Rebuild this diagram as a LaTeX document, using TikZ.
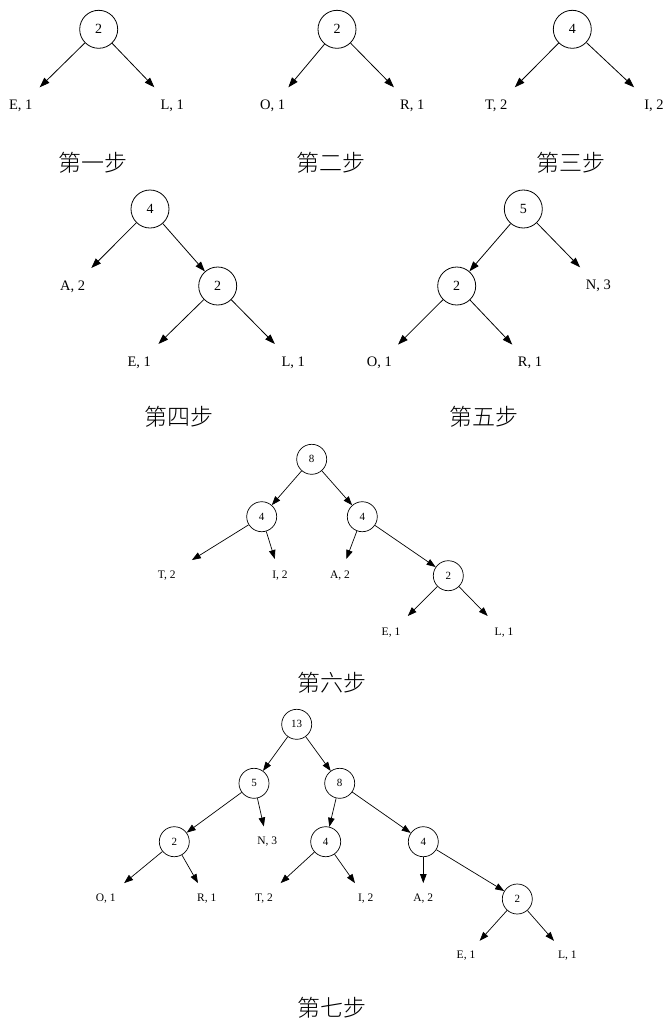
\documentclass[tikz,border=0pt]{standalone}
\usepackage{fontspec}
\setmainfont{Liberation Serif}
\IfFontExistsTF{Noto Sans CJK SC Light}{\newfontfamily\cjk{Noto Sans CJK SC Light}}{\newfontfamily\cjk{Noto Sans CJK SC}}
\usetikzlibrary{arrows.meta}
\begin{document}
\begin{tikzpicture}[x=1pt,y=-1pt,
  bignum/.style={circle,draw,line width=0.8pt,minimum size=38pt,inner sep=0pt,font=\fontsize{14}{14}\selectfont},
  smallnum/.style={circle,draw,line width=0.7pt,minimum size=30pt,inner sep=0pt,font=\fontsize{11}{11}\selectfont},
  biglbl/.style={rectangle,minimum width=54pt,minimum height=37pt,inner sep=0pt,font=\fontsize{14.5}{14.5}\selectfont},
  smalllbl/.style={rectangle,minimum width=50pt,minimum height=30pt,inner sep=0pt,font=\fontsize{11.5}{11.5}\selectfont},
  midlbl/.style={smalllbl,minimum height=33pt},
  stepcap/.style={font=\cjk\fontsize{23}{23}\selectfont,inner sep=0pt},
  arr/.style={-{Triangle[length=10pt,width=7pt]},line width=0.8pt},
  sarr/.style={-{Triangle[length=9pt,width=6.5pt]},line width=0.7pt}
]
\useasboundingbox (0,0) rectangle (666,1021);

% Step 1
\node[bignum] (a1) at (98.7,29.3) {2};
\node[biglbl] (a1e) at (20.7,106) {E, 1};
\node[biglbl] (a1l) at (172.3,106) {L, 1};
\draw[arr] (a1) -- (a1e);
\draw[arr] (a1) -- (a1l);
\node[stepcap] (c1) at (92.7,162.5) {第一步};

% Step 2
\node[bignum] (b1) at (337,29.3) {2};
\node[biglbl] (b1o) at (272.7,106) {O, 1};
\node[biglbl] (b1r) at (412.3,106) {R, 1};
\draw[arr] (b1) -- (b1o);
\draw[arr] (b1) -- (b1r);
\node[stepcap] (c2) at (331,162.5) {第二步};

% Step 3
\node[bignum] (d1) at (572.3,29.3) {4};
\node[biglbl] (d1t) at (496.3,106) {T, 2};
\node[biglbl] (d1i) at (654,106) {I, 2};
\draw[arr] (d1) -- (d1t);
\draw[arr] (d1) -- (d1i);
\node[stepcap] (c3) at (570.5,162.5) {第三步};

% Step 4
\node[bignum] (e1) at (150,209) {4};
\node[biglbl] (e1a) at (72.7,286.7) {A, 2};
\node[bignum] (e2) at (217.7,286) {2};
\node[biglbl] (e2e) at (139.3,362.7) {E, 1};
\node[biglbl] (e2l) at (293.3,362.7) {L, 1};
\draw[arr] (e1) -- (e1a);
\draw[arr] (e1) -- (e2);
\draw[arr] (e2) -- (e2e);
\draw[arr] (e2) -- (e2l);
\node[stepcap] (c4) at (179,417) {第四步};

% Step 5
\node[bignum] (f1) at (523.3,209) {5};
\node[bignum] (f2) at (456.7,286) {2};
\node[biglbl] (f1n) at (598.3,286) {N, 3};
\node[biglbl] (f2o) at (379.3,363.3) {O, 1};
\node[biglbl] (f2r) at (530,363.3) {R, 1};
\draw[arr] (f1) -- (f2);
\draw[arr] (f1) -- (f1n);
\draw[arr] (f2) -- (f2o);
\draw[arr] (f2) -- (f2r);
\node[stepcap] (c5) at (484,417) {第五步};

% Step 6
\node[smallnum] (g1) at (311.7,459.3) {8};
\node[smallnum] (g2) at (261.7,516.7) {4};
\node[smallnum] (g3) at (362.3,516.7) {4};
\node[midlbl] (g2t) at (166.7,575.7) {T, 2};
\node[midlbl] (g2i) at (280,575.7) {I, 2};
\node[midlbl] (g3a) at (340,575.7) {A, 2};
\node[smallnum] (g4) at (448.3,575.7) {2};
\node[midlbl] (g4e) at (391,632.7) {E, 1};
\node[midlbl] (g4l) at (504,632.7) {L, 1};
\draw[sarr] (g1) -- (g2);
\draw[sarr] (g1) -- (g3);
\draw[sarr] (g2) -- (g2t);
\draw[sarr] (g2) -- (g2i);
\draw[sarr] (g3) -- (g3a);
\draw[sarr] (g3) -- (g4);
\draw[sarr] (g4) -- (g4e);
\draw[sarr] (g4) -- (g4l);
\node[stepcap] (c6) at (331.7,682.5) {第六步};

% Step 7
\node[smallnum] (h1) at (296.7,724.3) {13};
\node[smallnum] (h2) at (254,783.3) {5};
\node[smallnum] (h3) at (339.7,783.3) {8};
\node[smallnum] (h4) at (174.3,841.7) {2};
\node[smalllbl] (h2n) at (267.3,841.7) {N, 3};
\node[smallnum] (h5) at (325.7,841.7) {4};
\node[smallnum] (h6) at (423.3,841.7) {4};
\node[smalllbl] (h4o) at (105.7,898.3) {O, 1};
\node[smalllbl] (h4r) at (206.7,898.3) {R, 1};
\node[smalllbl] (h5t) at (264,898.3) {T, 2};
\node[smalllbl] (h5i) at (365.7,898.3) {I, 2};
\node[smalllbl] (h6a) at (423.3,898.3) {A, 2};
\node[smallnum] (h7) at (517.3,899) {2};
\node[smalllbl] (h7e) at (466,956) {E, 1};
\node[smalllbl] (h7l) at (567.3,956) {L, 1};
\draw[sarr] (h1) -- (h2);
\draw[sarr] (h1) -- (h3);
\draw[sarr] (h2) -- (h4);
\draw[sarr] (h2) -- (h2n);
\draw[sarr] (h3) -- (h5);
\draw[sarr] (h3) -- (h6);
\draw[sarr] (h4) -- (h4o);
\draw[sarr] (h4) -- (h4r);
\draw[sarr] (h5) -- (h5t);
\draw[sarr] (h5) -- (h5i);
\draw[sarr] (h6) -- (h6a);
\draw[sarr] (h6) -- (h7);
\draw[sarr] (h7) -- (h7e);
\draw[sarr] (h7) -- (h7l);
\node[stepcap] (c7) at (331.7,1008) {第七步};
\end{tikzpicture}
\end{document}
